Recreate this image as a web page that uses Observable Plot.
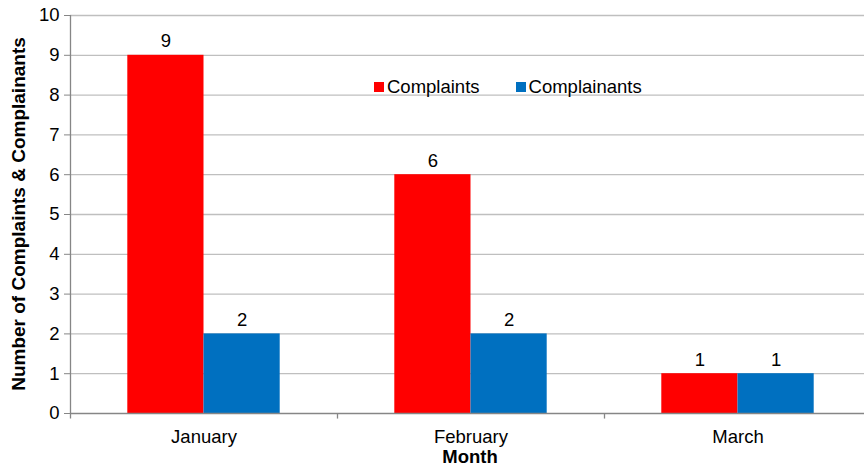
<!DOCTYPE html>
<html>
<head>
<meta charset="utf-8">
<script src="https://cdn.jsdelivr.net/npm/d3@7"></script>
<script src="https://cdn.jsdelivr.net/npm/@observablehq/plot@0.6"></script>
<style>
  html, body { margin: 0; padding: 0; background: #fff; }
  #wrap { position: relative; width: 864px; height: 468px; overflow: hidden; font-family: "Liberation Sans", Arial, sans-serif; }
  #wrap svg { max-width: none !important; }
  #legend { position: absolute; left: 374px; top: 76px; display: flex; gap: 36px; font-size: 18.5px; color: #000; }
  #legend span.item { display: flex; align-items: center; }
  #legend span.sw { width: 10px; height: 10px; display: inline-block; margin-right: 3px; }
  #ylab { position: absolute; left: 19px; top: 214px; transform: translate(-50%, -50%) rotate(-90deg); white-space: nowrap; font-weight: bold; font-size: 19px; color: #000; }
  #xlab { position: absolute; left: 470px; top: 446px; transform: translateX(-50%); font-weight: bold; font-size: 18.5px; color: #000; }
</style>
</head>
<body>
<div id="wrap"></div>
<script>
const months = ["January", "February", "March"];
const complaints = [9, 6, 1];
const complainants = [2, 2, 1];
const seriesNames = ["Complaints", "Complainants"];
const seriesColors = ["#ff0000", "#0070c0"];
const yTicks = [0, 1, 2, 3, 4, 5, 6, 7, 8, 9, 10];

// The original chart is cropped on the right: the plot area continues a few pixels past 864.
const W = 871, H = 468;
const mL = 70, mR = 0, mT = 15, mB = 55;
const step = (W - mL - mR) / months.length;
const barW = 76.2;
const half = step / 2;

const redData = months.map((m, i) => ({month: m, value: complaints[i]}));
const blueData = months.map((m, i) => ({month: m, value: complainants[i]}));

const axisColor = "#868686";
const gridColor = "#bfbfbf";

const chart = Plot.plot({
  width: W,
  height: H,
  marginLeft: mL,
  marginRight: mR,
  marginTop: mT,
  marginBottom: mB,
  style: {fontFamily: "Liberation Sans, Arial, sans-serif", fontSize: "18.5px", color: "#000", background: "#fff", overflow: "visible", maxWidth: "none"},
  x: {type: "band", domain: months, padding: 0, label: null},
  y: {domain: [0, 10], label: null},
  marks: [
    Plot.ruleY(yTicks.filter(d => d > 0), {stroke: gridColor, strokeWidth: 1.3}),
    Plot.barY(redData, {x: "month", y: "value", fill: seriesColors[0], insetLeft: half - barW, insetRight: half}),
    Plot.barY(blueData, {x: "month", y: "value", fill: seriesColors[1], insetLeft: half, insetRight: half - barW}),
    Plot.ruleY([0], {stroke: axisColor, strokeWidth: 1.3}),
    Plot.ruleX([months[0]], {dx: -half, y1: -0.14, y2: 10, stroke: axisColor, strokeWidth: 1.3}),
    Plot.ruleX(months.slice(1), {dx: -half, y1: -0.14, y2: 0, stroke: axisColor, strokeWidth: 1.3}),
    Plot.axisY({ticks: yTicks, tickSize: 6, tickPadding: 5, stroke: axisColor, fontSize: 18.5, tickFormat: d => String(d), label: null}),
    Plot.axisX({tickSize: 0, tickPadding: 16, fontSize: 18.5, label: null}),
    Plot.text(redData, {x: "month", y: "value", text: d => String(d.value), dx: -barW / 2, dy: -8, lineAnchor: "bottom", fontSize: 18.5, fill: "#000"}),
    Plot.text(blueData, {x: "month", y: "value", text: d => String(d.value), dx: barW / 2, dy: -8, lineAnchor: "bottom", fontSize: 18.5, fill: "#000"})
  ]
});

const wrap = document.getElementById("wrap");
wrap.appendChild(chart);

const legend = document.createElement("div");
legend.id = "legend";
seriesNames.forEach((n, i) => {
  const item = document.createElement("span");
  item.className = "item";
  const sw = document.createElement("span");
  sw.className = "sw";
  sw.style.background = seriesColors[i];
  item.appendChild(sw);
  item.appendChild(document.createTextNode(n));
  legend.appendChild(item);
});
wrap.appendChild(legend);

const ylab = document.createElement("div");
ylab.id = "ylab";
ylab.textContent = "Number of Complaints & Complainants";
wrap.appendChild(ylab);

const xlab = document.createElement("div");
xlab.id = "xlab";
xlab.textContent = "Month";
wrap.appendChild(xlab);
</script>
</body>
</html>
